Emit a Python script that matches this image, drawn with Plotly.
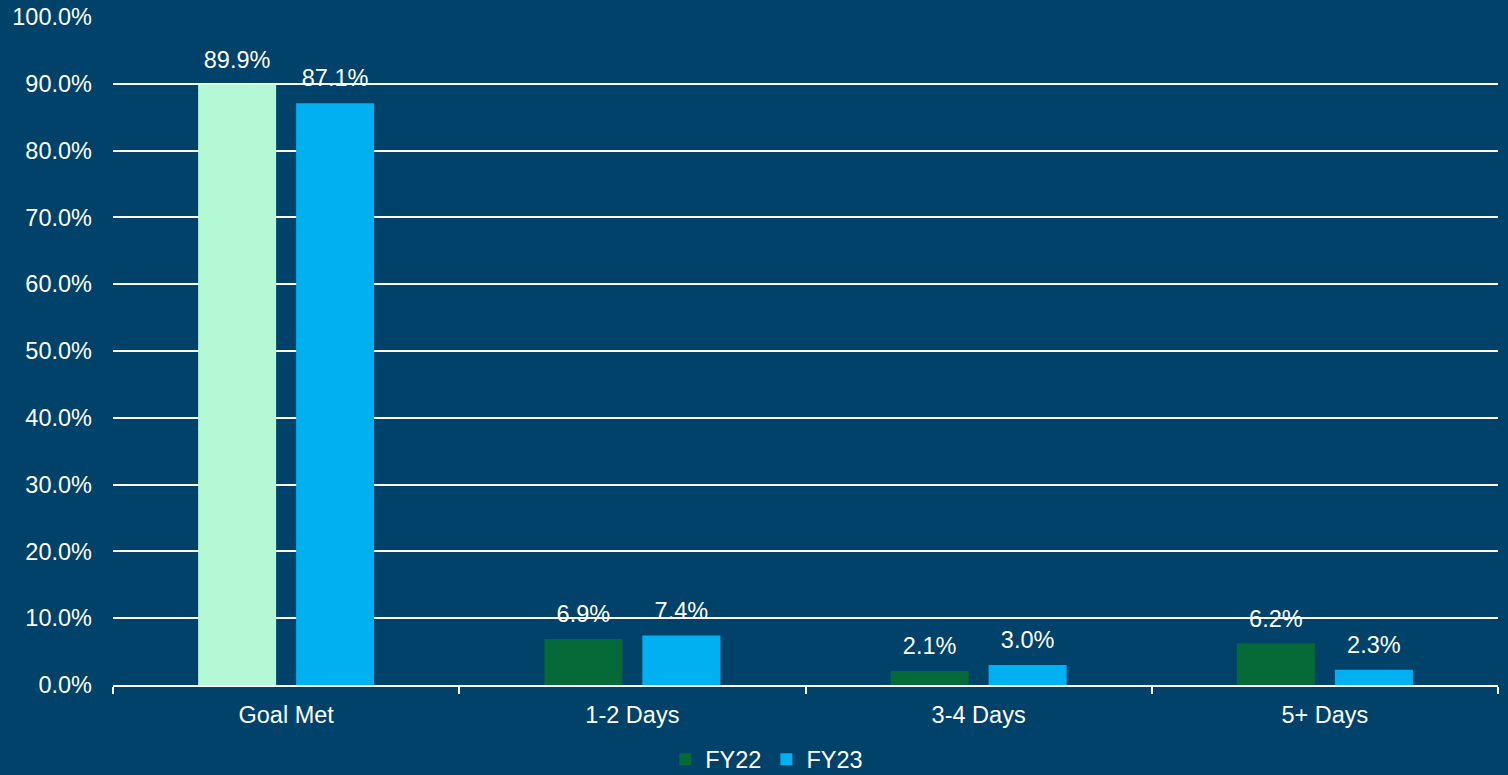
import plotly.graph_objects as go

categories = ["Goal Met", "1-2 Days", "3-4 Days", "5+ Days"]
fy22 = [89.9, 6.9, 2.1, 6.2]
fy23 = [87.1, 7.4, 3.0, 2.3]
y_ticks = [0, 10, 20, 30, 40, 50, 60, 70, 80, 90, 100]
y_tick_text = [f"{v:.1f}%" for v in y_ticks]

BG = "#00426A"
GREEN = "#066A38"
MINT = "#B3F9D5"
BLUE = "#00B0F0"
FONT = "Liberation Sans, Arial, sans-serif"
FS = 23.5
BARGAP = 0.434

fig = go.Figure()
fig.add_trace(go.Bar(
    x=categories[:1], y=fy22[:1], name="FY22", marker=dict(color=MINT, line=dict(width=0)),
    offsetgroup="fy22", showlegend=False, hoverinfo="skip",
))
fig.add_trace(go.Bar(
    x=categories[1:], y=fy22[1:], name="FY22", marker=dict(color=GREEN, line=dict(width=0)),
    offsetgroup="fy22",
))
fig.add_trace(go.Bar(
    x=categories, y=fy23, name="FY23", marker=dict(color=BLUE, line=dict(width=0)),
    offsetgroup="fy23",
))
# value labels
for vals, grp in ((fy22, "fy22"), (fy23, "fy23")):
    fig.add_trace(go.Scatter(
        x=categories, y=vals, mode="text+markers", offsetgroup=grp,
        marker=dict(size=16, opacity=0), text=[f"{v:.1f}%" for v in vals],
        textposition="top center", textfont=dict(color="white", size=FS, family=FONT),
        showlegend=False, hoverinfo="skip", cliponaxis=False,
    ))

fig.update_layout(
    width=1508, height=775,
    paper_bgcolor=BG, plot_bgcolor=BG,
    font=dict(family=FONT, size=FS, color="white"),
    margin=dict(l=113, r=10, t=17, b=90, autoexpand=False),
    barmode="group", bargap=BARGAP, bargroupgap=0.204,
    scattermode="group", scattergap=BARGAP,
    legend=dict(orientation="h", x=0.472, xanchor="center",
                yref="container", y=0.02, yanchor="middle",
                font=dict(size=FS, color="white"), bgcolor="rgba(0,0,0,0)",
                tracegroupgap=0),
    showlegend=True,
)
fig.update_yaxes(
    range=[0, 100], tickvals=y_ticks, ticktext=y_tick_text, automargin=False,
    showgrid=True, gridcolor="white", gridwidth=2, zeroline=False,
    showline=False, ticks="", ticklabelstandoff=20,
    tickfont=dict(size=FS, color="white"),
)
fig.update_xaxes(
    categoryorder="array", categoryarray=categories, automargin=False,
    showline=True, linecolor="white", linewidth=2,
    ticks="outside", tickson="boundaries", ticklen=7, tickcolor="white", tickwidth=2,
    ticklabelstandoff=8, tickfont=dict(size=FS, color="white"),
)

html = fig.to_html(full_html=True, config={"displayModeBar": False})
html = html.replace("<body>", "<body style=\"margin:0;padding:0;overflow:hidden\">", 1)
with open("out.html", "w", encoding="utf-8") as f:
    f.write(html)
